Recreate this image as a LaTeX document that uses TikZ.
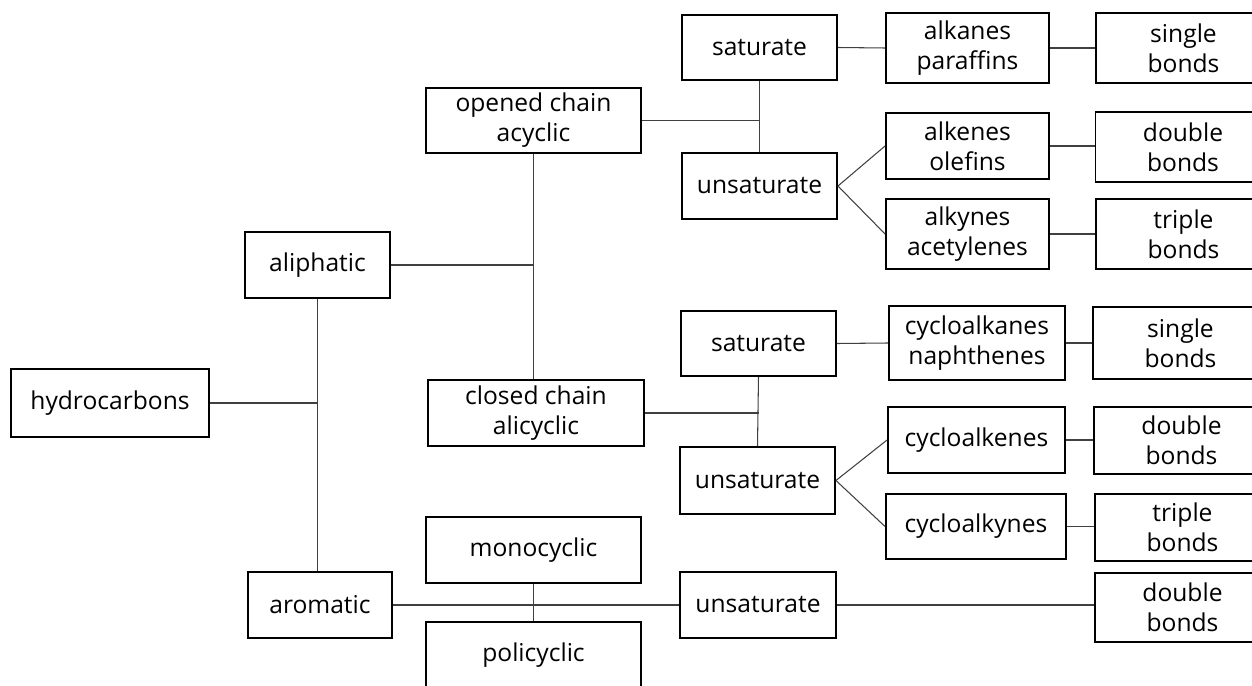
\documentclass[tikz,border=0pt]{standalone}
\usepackage{fontspec}
\setmainfont{Open Sans}
\usetikzlibrary{calc}

\tikzset{
  box/.style={draw, line width=1.1pt, align=center, inner sep=0pt,
    minimum height=1.32cm, font=\fontsize{14}{17}\selectfont},
  link/.style={black!75, line width=0.6pt}
}

\begin{document}
\begin{tikzpicture}[x=0.02cm, y=-0.02cm]
        % Fix the picture size
        \useasboundingbox (0,0) rectangle (1252,686);
        \clip (0,0) rectangle (1252,686);

        % First levels
        \node[box, minimum width=3.96cm, minimum height=1.36cm] (hydro) at (110,403) {hydrocarbons};
        \node[box, minimum width=2.9cm] (aliph) at (317.5,265) {aliphatic};
        \node[box, minimum width=2.88cm] (arom) at (320,605) {aromatic};

        % Chains and rings
        \node[box, minimum width=4.3cm, minimum height=1.3cm] (opened) at (533.5,120.5) {opened chain\\acyclic};
        \node[box, minimum width=4.32cm] (closed) at (536,413) {closed chain\\alicyclic};
        \node[box, minimum width=4.3cm] (mono) at (533.5,550) {monocyclic};
        \node[box, minimum width=4.3cm] (poly) at (533.5,655) {policyclic};

        % Saturation
        \node[box, minimum width=3.1cm, minimum height=1.3cm] (satA) at (759.5,47.5) {saturate};
        \node[box, minimum width=3.1cm] (unsatA) at (759.5,186) {unsaturate};
        \node[box, minimum width=3.1cm, minimum height=1.3cm] (satB) at (758.5,343.5) {saturate};
        \node[box, minimum width=3.1cm, minimum height=1.34cm] (unsatB) at (757.5,480.5) {unsaturate};
        \node[box, minimum width=3.12cm] (unsatC) at (758,605) {unsaturate};

        % Families
        \node[box, minimum width=3.26cm, minimum height=1.4cm] (alkanes) at (967.5,48) {alkanes\\paraffins};
        \node[box, minimum width=3.26cm] (alkenes) at (967.5,146) {alkenes\\olefins};
        \node[box, minimum width=3.26cm, minimum height=1.4cm] (alkynes) at (967.5,234) {alkynes\\acetylenes};
        \node[box, minimum width=3.52cm, minimum height=1.48cm] (cycane) at (977,343) {cycloalkanes\\naphthenes};
        \node[box, minimum width=3.54cm] (cycene) at (976.5,440) {cycloalkenes};
        \node[box, minimum width=3.6cm, minimum height=1.3cm] (cycyne) at (976,526.5) {cycloalkynes};

        % Bonds (cut by the right edge)
        \node[box, minimum width=3.5cm, minimum height=1.4cm] (singleA) at (1183.5,48) {single\\bonds};
        \node[box, minimum width=3.5cm, minimum height=1.4cm] (doubleA) at (1183,147) {double\\bonds};
        \node[box, minimum width=3.5cm, minimum height=1.4cm] (tripleA) at (1183.5,234) {triple\\bonds};
        \node[box, minimum width=3.5cm, minimum height=1.44cm] (singleB) at (1180.5,343) {single\\bonds};
        \node[box, minimum width=3.5cm, minimum height=1.34cm] (doubleB) at (1181.5,440.5) {double\\bonds};
        \node[box, minimum width=3.5cm, minimum height=1.34cm] (tripleB) at (1182.5,527.5) {triple\\bonds};
        \node[box, minimum width=3.5cm, minimum height=1.38cm] (doubleC) at (1182.5,607.5) {double\\bonds};

        % Tree lines on the left
        \draw[link] (aliph.south) -- (aliph.south |- arom.north);
        \draw[link] (hydro.east) -- (aliph.south |- hydro.east);
        \draw[link] (opened.south) -- (opened.south |- closed.north);
        \draw[link] (aliph.east) -- (opened.south |- aliph.east);
        \draw[link] (arom.east) -- (unsatC.west);
        \draw[link] (mono.south) -- (poly.north);

        % Saturation links
        \draw[link] (satA.south) -- (unsatA.north);
        \draw[link] (opened.east) -- (satA.south |- opened.east);
        \draw[link] (satB.south) -- (unsatB.north);
        \draw[link] (closed.east) -- (satB.south |- closed.east);

        % Families and bonds
        \draw[link] (satA.east) -- (alkanes.west);
        \draw[link] (unsatA.east) -- (alkenes.west);
        \draw[link] (unsatA.east) -- (alkynes.west);
        \draw[link] (satB.east) -- (cycane.west);
        \draw[link] (unsatB.east) -- (cycene.west);
        \draw[link] (unsatB.east) -- (cycyne.west);
        \draw[link] (unsatC.east) -- (unsatC.east -| doubleC.west);
        \draw[link] (alkanes.east) -- (alkanes.east -| singleA.west);
        \draw[link] (alkenes.east) -- (alkenes.east -| doubleA.west);
        \draw[link] (alkynes.east) -- (alkynes.east -| tripleA.west);
        \draw[link] (cycane.east) -- (cycane.east -| singleB.west);
        \draw[link] (cycene.east) -- (cycene.east -| doubleB.west);
        \draw[link] (cycyne.east) -- (cycyne.east -| tripleB.west);
    \end{tikzpicture}
\end{document}
